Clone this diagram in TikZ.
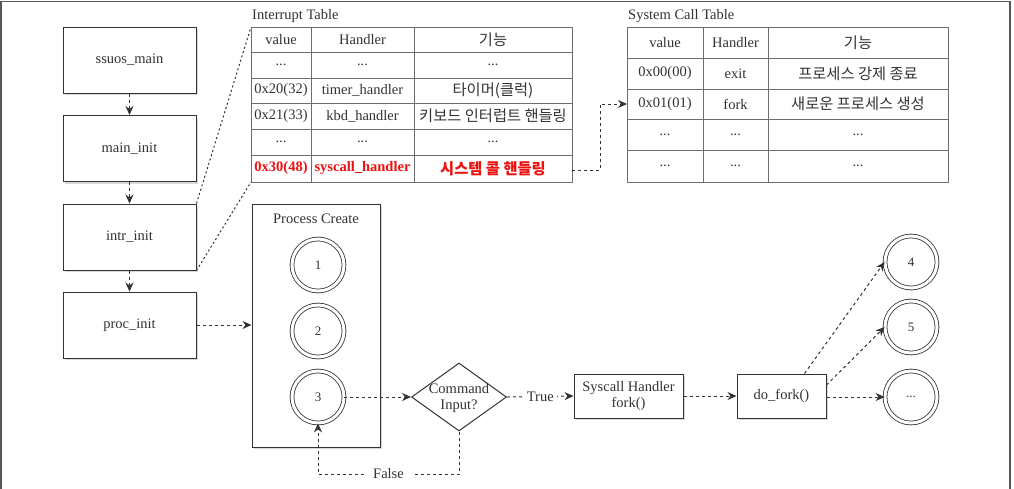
\documentclass[tikz,border=0pt]{standalone}
\usepackage{fontspec}
\setmainfont{Liberation Serif}
\newfontfamily\kr{Noto Sans CJK KR}
\usetikzlibrary{shapes.geometric,arrows.meta,shadows,calc}
\definecolor{ln}{HTML}{333333}
\definecolor{txt}{HTML}{333333}
\definecolor{tl}{HTML}{6E6E6E}
\definecolor{rd}{HTML}{EE1111}
\newcommand{\fs}{\fontsize{14.5}{16}\selectfont}
\newcommand{\krs}{\kr\fontsize{15.3}{17}\selectfont}
\begin{document}
\begin{tikzpicture}[x=1pt,y=-1pt,
  box/.style={draw=ln, line width=1pt, fill=white, font=\fs, text=txt, inner sep=0pt,
    drop shadow={shadow xshift=2pt, shadow yshift=-2pt, opacity=0.3}},
  lbox/.style={box, minimum width=133pt, minimum height=66pt},
  dcirc/.style={circle, draw=ln, line width=0.8pt, double=white, double distance=3pt,
    minimum size=52pt, inner sep=0pt, font=\fontsize{13}{15}\selectfont, text=txt},
  arr/.style={ln, line width=1pt, dash pattern=on 3pt off 3pt,
    -{Stealth[length=9pt,width=8pt]}},
  dotl/.style={ln, line width=1pt, dash pattern=on 2pt off 2.5pt},
  tbl/.style={tl, line width=1pt},
  cell/.style={font=\fs, text=txt, inner sep=0pt},
  kcell/.style={font=\krs, text=txt, inner sep=0pt},
  ttl/.style={font=\fs, text=txt, inner sep=0pt, anchor=west},
  lab/.style={font=\fs, text=txt, fill=white, inner sep=2pt}
]
\useasboundingbox (0,0) rectangle (1014,488);
\fill[white] (0,0) rectangle (1014,488);
\draw[tl!80!black, line width=1.5pt] (1,490) -- (1,1.5) -- (1010,1.5) -- (1010,490);

% left column
\node[lbox] (ssuos) at (129.5,60) {ssuos\_main};
\node[lbox] (minit) at (129.5,148.5) {main\_init};
\node[lbox] (intr) at (129.5,237) {intr\_init};
\node[lbox] (proc) at (129.5,325) {proc\_init};
\draw[arr] (ssuos) -- (minit);
\draw[arr] (minit) -- (intr);
\draw[arr] (intr) -- (proc);

% Interrupt table
\node[ttl] (itt) at (252,16) {Interrupt Table};
\coordinate (itTL) at (251,27);
\coordinate (itBL) at (251,182);
\draw[tbl] (itTL) rectangle (572,182);
\foreach \yy in {52,78,103,129,155} \draw[tbl] (251,\yy) -- (572,\yy);
\foreach \xx in {311,414} \draw[tbl] (\xx,27) -- (\xx,182);
\node[cell] (i11) at (281,39.5) {value};
\node[cell] (i12) at (362.5,39.5) {Handler};
\node[kcell] (i13) at (493,39.5) {기능};
\node[cell] (i21) at (281,65) {...};
\node[cell] (i22) at (362.5,65) {...};
\node[cell] (i23) at (493,65) {...};
\node[cell] (i31) at (281,90.5) {0x20(32)};
\node[cell] (i32) at (362.5,90.5) {timer\_handler};
\node[kcell] (i33) at (493,90.5) {타이머(클럭)};
\node[cell] (i41) at (281,116) {0x21(33)};
\node[cell] (i42) at (362.5,116) {kbd\_handler};
\node[kcell] (i43) at (493,116) {키보드 인터럽트 핸들링};
\node[cell] (i51) at (281,142) {...};
\node[cell] (i52) at (362.5,142) {...};
\node[cell] (i53) at (493,142) {...};
\node[cell, text=rd, font=\fs\bfseries] (i61) at (281,168.5) {0x30(48)};
\node[cell, text=rd, font=\fs\bfseries] (i62) at (362.5,168.5) {syscall\_handler};
\node[kcell, text=rd, font=\krs\bfseries] (i63) at (493,168.5) {시스템 콜 핸들링};
\coordinate (itR) at (572,170);

% System call table
\node[ttl] (sct) at (628,16) {System Call Table};
\draw[tbl] (627,27) rectangle (948,182);
\foreach \yy in {58,89,119,150} \draw[tbl] (627,\yy) -- (948,\yy);
\foreach \xx in {703,768} \draw[tbl] (\xx,27) -- (\xx,182);
\node[cell] (s11) at (665,42.5) {value};
\node[cell] (s12) at (735.5,42.5) {Handler};
\node[kcell] (s13) at (858,42.5) {기능};
\node[cell] (s21) at (665,73.5) {0x00(00)};
\node[cell] (s22) at (735.5,73.5) {exit};
\node[kcell] (s23) at (858,73.5) {프로세스 강제 종료};
\node[cell] (s31) at (665,104) {0x01(01)};
\node[cell] (s32) at (735.5,104) {fork};
\node[kcell] (s33) at (858,104) {새로운 프로세스 생성};
\node[cell] (s41) at (665,134.5) {...};
\node[cell] (s42) at (735.5,134.5) {...};
\node[cell] (s43) at (858,134.5) {...};
\node[cell] (s51) at (665,166) {...};
\node[cell] (s52) at (735.5,166) {...};
\node[cell] (s53) at (858,166) {...};
\coordinate (stL) at (627,104);
\draw[arr] (itR) -- (600,170) |- (stL);

% zoom lines
\draw[dotl] (intr.north east) -- (itTL);
\draw[dotl] (intr.south east) -- (itBL);

% Process create
\node[box, minimum width=128pt, minimum height=243pt] (pc) at (316,325.5) {};
\node[cell] (pct) at (316,219) {Process Create};
\node[dcirc] (c1) at (318,265) {1};
\node[dcirc] (c2) at (318,331) {2};
\node[dcirc] (c3) at (318,397) {3};
\draw[arr] (proc) -- (proc -| pc.west);

% decision
\node[diamond, draw=ln, line width=1pt, fill=white, minimum width=95pt, minimum height=68pt, inner sep=0pt] (cmd) at (459,397) {};
\node[cell, align=center, font=\fontsize{14.5}{16}\selectfont] (cmdt) at (459,398) {Command\\Input?};
\draw[arr] (c3) -- (cmd);

\node[box, minimum width=109pt, minimum height=44pt, align=center, font=\fontsize{14.5}{16}\selectfont] (sys) at (628.5,396) {Syscall Handler\\fork()};
\draw[arr] (cmd.east) -- node[lab, inner sep=3pt] (truel) {True} (sys.west);

\node[box, minimum width=89pt, minimum height=44pt] (dof) at (781.5,396) {do\_fork()};
\draw[arr] (sys) -- (dof);

\node[dcirc] (c4) at (911,262) {4};
\node[dcirc] (c5) at (911,327) {5};
\node[dcirc] (c6) at (911,397) {...};
\draw[arr] ($(dof.north east)+(-22,0)$) -- (c4.west);
\draw[arr] ($(dof.east)+(0,-11)$) -- (c5.west);
\draw[arr] (dof.east |- c6) -- (c6);

% false loop
\coordinate (fl) at (459,474);
\draw[arr] (cmd.south) -- (fl) -- node[lab, inner sep=8pt] (falsel) {False} (fl -| c3) -- (c3.south);
\end{tikzpicture}
\end{document}
